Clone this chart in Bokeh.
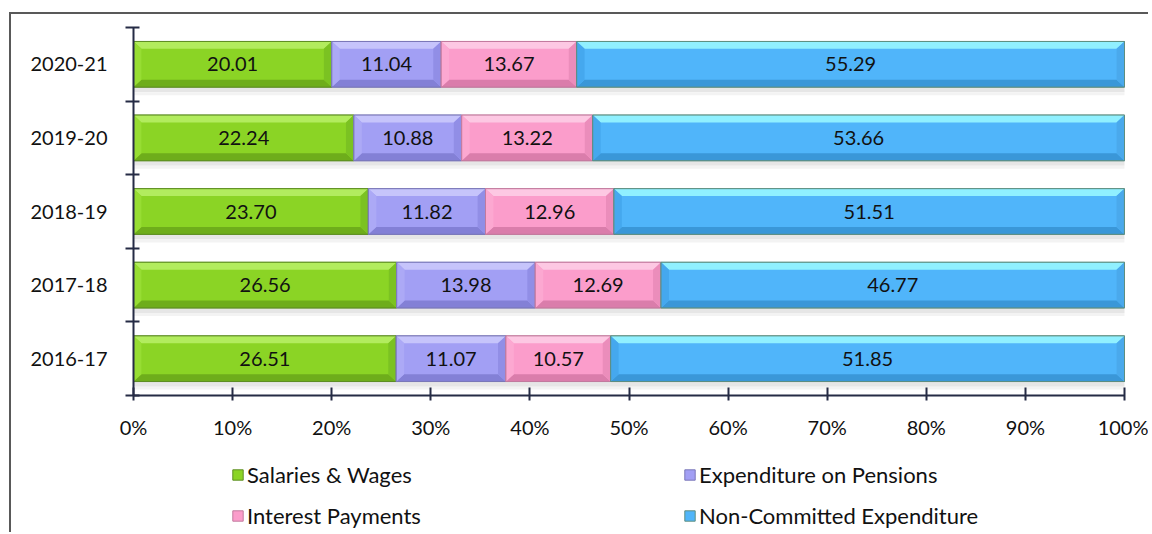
from bokeh.plotting import figure
from bokeh.models import (ColumnDataSource, FixedTicker, Legend, LegendItem, Range1d)
from bokeh.core.properties import value
from bokeh.embed import file_html
from bokeh.resources import INLINE

# ---- data ----
years = ["2016-17", "2017-18", "2018-19", "2019-20", "2020-21"]
salaries = [26.51, 26.56, 23.70, 22.24, 20.01]
pensions = [11.07, 13.98, 11.82, 10.88, 11.04]
interest = [10.57, 12.69, 12.96, 13.22, 13.67]
noncommitted = [51.85, 46.77, 51.51, 53.66, 55.29]
series_names = ["Salaries & Wages", "Expenditure on Pensions",
                "Interest Payments", "Non-Committed Expenditure"]
x_ticks = [0, 10, 20, 30, 40, 50, 60, 70, 80, 90, 100]

# ---- styles ----
FONT = "Lato"
AXIS_COLOR = "#252B45"
palettes = [
    # main, top, bottom, left, right, outline
    ("#8BD425", "#B2EC5E", "#6EAD1B", "#97DD33", "#7BC222", "#5E8E23"),
    ("#A29FF4", "#C6C4FB", "#8380D6", "#ACA9F6", "#918EE6", "#7A78B8"),
    ("#FB9DCB", "#FDC8E3", "#DA7DAB", "#FCA8D1", "#EB8DBB", "#C27A9E"),
    ("#50B5FA", "#90F0FF", "#3A97D8", "#45A8EE", "#4AA9EC", "#5E8E80"),
]
BAR_H = 0.62
DY = 0.10   # bevel depth (y units)
DX = 0.8    # bevel depth (x units)

# layout (canvas pixels)
CANVAS_W, CANVAS_H = 1139, 520
AX_LEFT, AX_RIGHT = 122, 1113       # x = 0 and x = 100
AX_TOP, AX_BOTTOM = 13, 381         # y = 5 and y = 0
px_x = (AX_RIGHT - AX_LEFT) / 100.0
px_y = (AX_BOTTOM - AX_TOP) / 5.0
x_start = -AX_LEFT / px_x
x_end = 100 + (CANVAS_W - AX_RIGHT) / px_x
y_start = -(CANVAS_H - AX_BOTTOM) / px_y
y_end = 5 + AX_TOP / px_y

p = figure(width=CANVAS_W, height=CANVAS_H, output_backend="svg", toolbar_location=None,
           x_range=Range1d(x_start, x_end), y_range=Range1d(y_start, y_end),
           min_border_left=0, min_border_right=0, min_border_top=0,
           min_border_bottom=0)
p.styles = {"border-left": "2px solid #595959", "border-top": "2px solid #595959",
            "margin-left": "9px", "margin-top": "12px"}
p.outline_line_color = None
p.xgrid.visible = False
p.ygrid.visible = False
p.background_fill_color = "white"

series = [salaries, pensions, interest, noncommitted]
n = len(years)
ys = [i + 0.5 for i in range(n)]

# shadow under bars
tot = [sum(s[i] for s in series) for i in range(n)]
p.quad(left=[0] * n, right=[min(t, 100) for t in tot],
       top=[y - BAR_H / 2 for y in ys], bottom=[y - BAR_H / 2 - 0.07 for y in ys],
       fill_color="#E6E6E6", line_color=None)
p.quad(left=[0] * n, right=[min(t, 100) for t in tot],
       top=[y - BAR_H / 2 - 0.07 for y in ys], bottom=[y - BAR_H / 2 - 0.11 for y in ys],
       fill_color="#F3F3F3", line_color=None)

legend_renderers = []
cum = [0.0] * n
for s, vals in enumerate(series):
    main, topc, botc, leftc, rightc, outc = palettes[s]
    lefts = cum[:]
    rights = [min(cum[i] + vals[i], 100) for i in range(n)]
    tops = [y + BAR_H / 2 for y in ys]
    bots = [y - BAR_H / 2 for y in ys]
    r = p.quad(left=lefts, right=rights, top=tops, bottom=bots,
               fill_color=main, line_color=outc, line_width=1)
    legend_renderers.append(r)
    xs_t, ys_t, xs_b, ys_b, xs_l, ys_l, xs_r, ys_r = [], [], [], [], [], [], [], []
    for i in range(n):
        l, rr, t, b = lefts[i], rights[i], tops[i], bots[i]
        xs_t.append([l, rr, rr - DX, l + DX]); ys_t.append([t, t, t - DY, t - DY])
        xs_b.append([l, rr, rr - DX, l + DX]); ys_b.append([b, b, b + DY, b + DY])
        xs_l.append([l, l + DX, l + DX, l]); ys_l.append([t, t - DY, b + DY, b])
        xs_r.append([rr, rr - DX, rr - DX, rr]); ys_r.append([t, t - DY, b + DY, b])
    p.patches(xs_t, ys_t, fill_color=topc, line_color=None)
    p.patches(xs_b, ys_b, fill_color=botc, line_color=None)
    p.patches(xs_l, ys_l, fill_color=leftc, line_color=None)
    p.patches(xs_r, ys_r, fill_color=rightc, line_color=None)
    p.quad(left=lefts, right=rights, top=tops, bottom=bots,
           fill_color=None, line_color=outc, line_width=1)
    src = ColumnDataSource(dict(x=[(lefts[i] + rights[i]) / 2 for i in range(n)], y=ys,
                                t=[f"{v:.2f}" for v in vals]))
    p.text(x="x", y="y", text="t", source=src, text_align="center",
           text_baseline="middle", text_font=value(FONT), text_font_size="20px",
           text_color="#111111")
    cum = [cum[i] + vals[i] for i in range(n)]

# axes
xa = p.xaxis[0]
xa.fixed_location = 0
xa.bounds = (0, 100)
xa.ticker = FixedTicker(ticks=x_ticks)
xa.major_label_overrides = {t: f"{t}%" for t in x_ticks}
xa.axis_line_color = AXIS_COLOR
xa.axis_line_width = 2
xa.major_tick_line_color = AXIS_COLOR
xa.major_tick_line_width = 2
xa.major_tick_in = 8
xa.major_tick_out = 5
xa.minor_tick_line_color = None
xa.major_label_standoff = 14
xa.major_label_text_font = FONT
xa.major_label_text_font_size = "20px"
xa.major_label_text_color = "#111111"

ya = p.yaxis[0]
ya.fixed_location = 0
ya.bounds = (0, n)
ya.ticker = FixedTicker(ticks=ys, minor_ticks=list(range(n + 1)))
ya.major_label_overrides = {y: years[i] for i, y in enumerate(ys)}
ya.axis_line_color = AXIS_COLOR
ya.axis_line_width = 2
ya.major_tick_line_color = None
ya.major_tick_in = 0
ya.major_tick_out = 0
ya.minor_tick_line_color = AXIS_COLOR
ya.minor_tick_line_width = 2
ya.minor_tick_in = 6
ya.minor_tick_out = 8
ya.major_label_standoff = 18
ya.major_label_text_font = FONT
ya.major_label_text_font_size = "20px"
ya.major_label_text_color = "#111111"

legend = Legend(items=[LegendItem(label=series_names[0], renderers=[legend_renderers[0]]),
                       LegendItem(label=series_names[2], renderers=[legend_renderers[2]]),
                       LegendItem(label=series_names[1], renderers=[legend_renderers[1]]),
                       LegendItem(label=series_names[3], renderers=[legend_renderers[3]])],
                orientation="vertical", ncols=2, location=(AX_LEFT + 98, 5))
legend.border_line_color = None
legend.background_fill_alpha = 0
legend.glyph_width = 13
legend.glyph_height = 13
legend.label_standoff = 3
legend.label_height = 20
legend.label_width = 422
legend.spacing = 14
legend.padding = 0
legend.margin = 0
legend.label_text_font = FONT
legend.label_text_font_size = "22px"
legend.label_text_color = "#111111"
p.add_layout(legend, "center")

open("out.html", "w").write(file_html(p, INLINE))
